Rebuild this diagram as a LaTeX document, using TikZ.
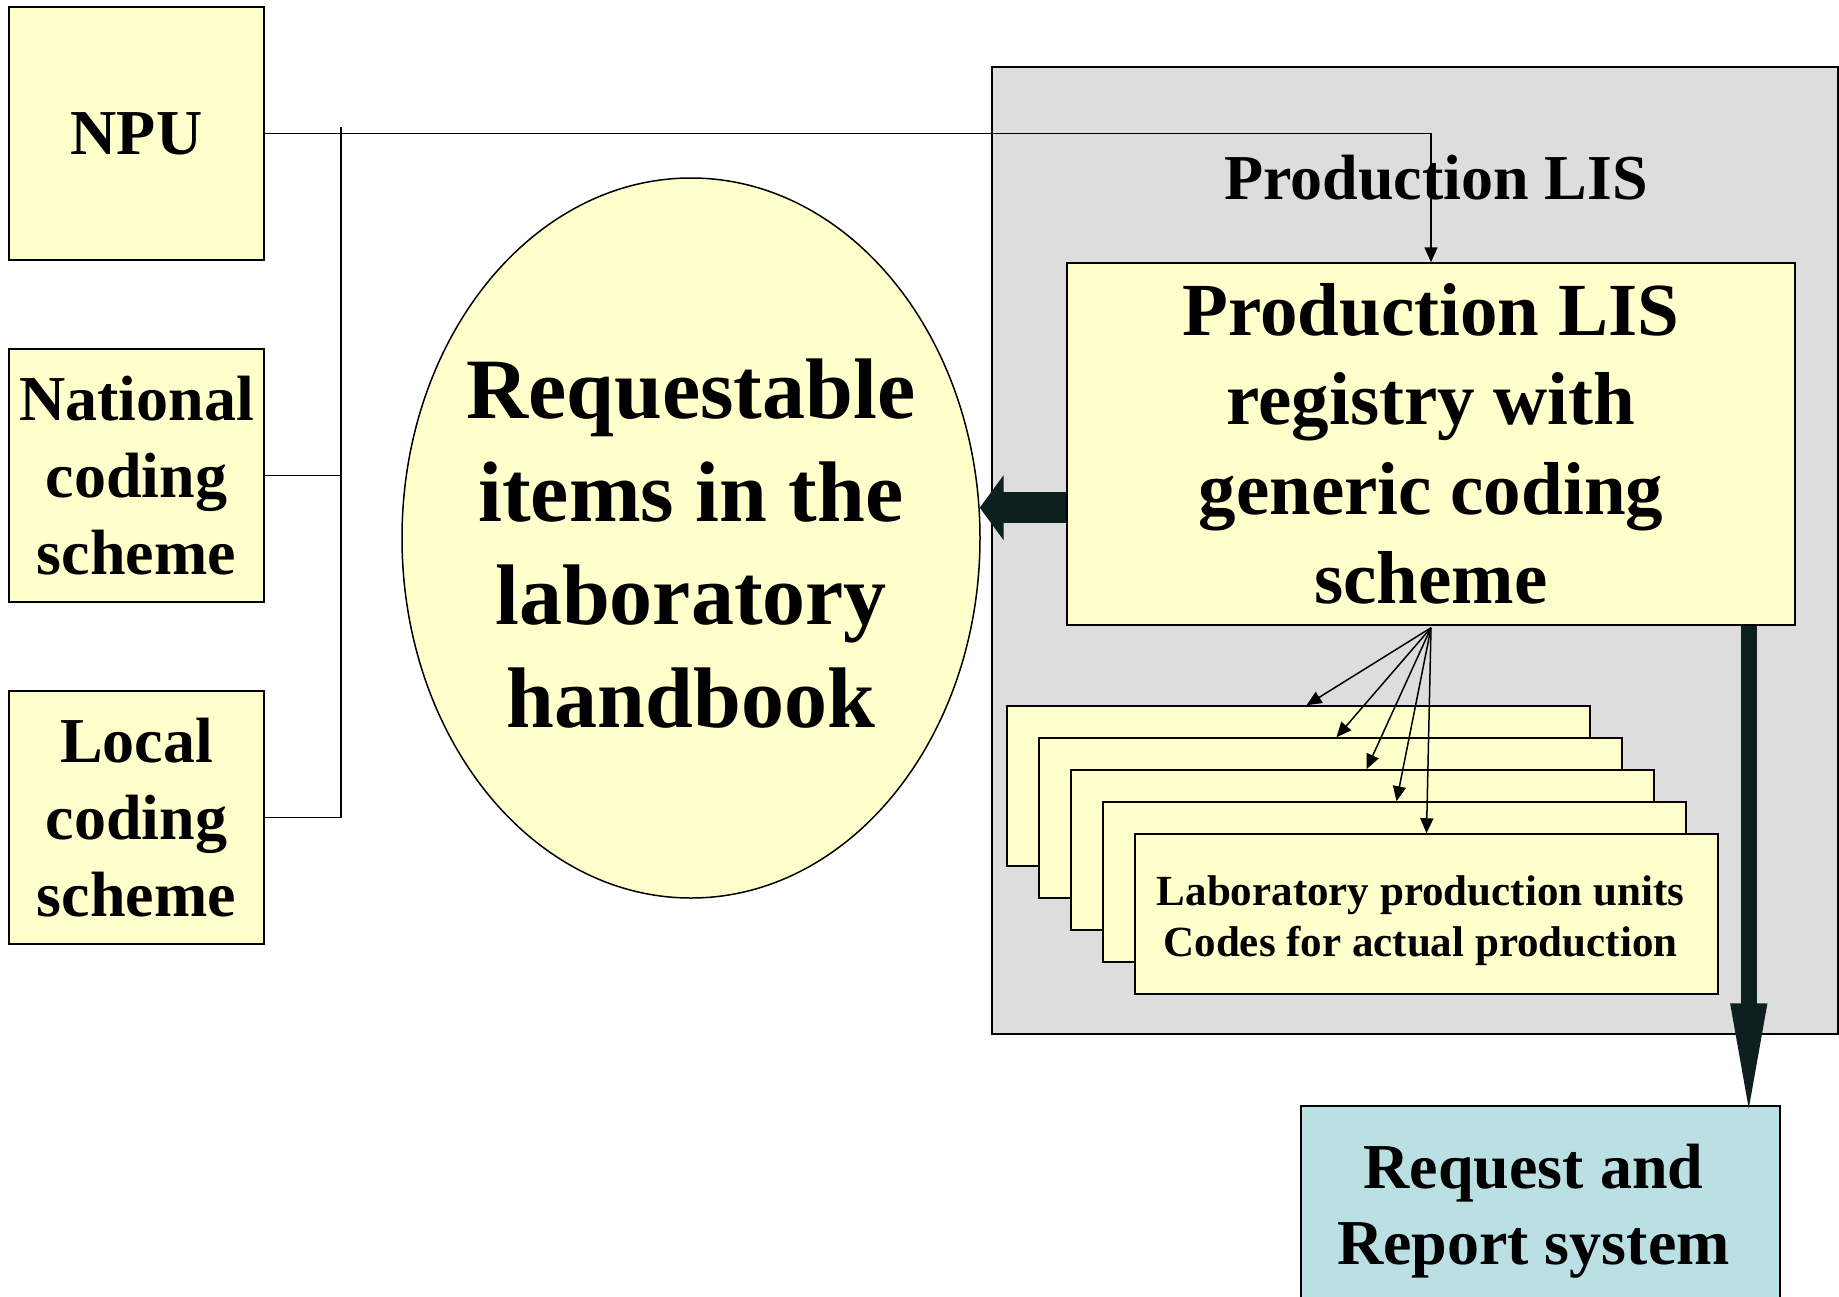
\documentclass[tikz,border=0pt]{standalone}
\usepackage{fontspec}
\setmainfont{Liberation Serif}
\usetikzlibrary{arrows.meta,positioning,shapes.geometric}
\definecolor{lightyel}{HTML}{FFFFCC}
\definecolor{panelgray}{HTML}{DDDDDD}
\definecolor{reqblue}{HTML}{BBE0E3}
\definecolor{darkarrow}{HTML}{0D1F1F}

\begin{document}
\begin{tikzpicture}[x=1pt,y=-1pt,
        src/.style={draw,line width=1.5pt,fill=lightyel,minimum width=255pt,minimum height=253pt,
            inner sep=0pt,align=center,font=\fontsize{64}{77}\selectfont\bfseries},
        unit/.style={draw,line width=1.5pt,fill=lightyel,minimum width=583pt,minimum height=160pt,inner sep=0pt},
        link/.style={line width=1.5pt},
        tip/.style={-{Triangle[length=15pt,width=13pt]}},
        fatarrow/.style={darkarrow},
    ]
    \path[use as bounding box,clip] (0,0) rectangle (1839,1296);

    % sources on the left
    \node[src] (npu) at (136.5,133.5) {NPU};
    \node[src] (nat) at (136.5,475.5) {National\\coding\\scheme};
    \node[src] (loc) at (136.5,817.5) {Local\\coding\\scheme};
    \coordinate (bustop) at (341,127);

    % handbook
    \node[ellipse,draw,line width=1.5pt,fill=lightyel,minimum width=578pt,minimum height=720pt] (hb) at (691,538) {};
    \node[align=center,font=\fontsize{86}{103}\selectfont\bfseries] at ([yshift=-6pt]hb.center)
        {Requestable\\items in the\\laboratory\\handbook};

    % production LIS panel
    \node[draw,line width=1.5pt,fill=panelgray,minimum width=846pt,minimum height=967pt] (lis) at (1415,550.5) {};
    \node[font=\fontsize{64}{80}\selectfont\bfseries] (listitle) at (1436,178) {Production LIS};
    \node[draw,line width=1.5pt,fill=lightyel,minimum width=728pt,minimum height=362pt,align=center,
        font=\fontsize{75}{89.5}\selectfont\bfseries] (reg) at (1431,444)
        {Production LIS\\registry with\\generic coding\\scheme};

    \foreach \i in {1,...,5}
        \node[unit] (u\i) at ({1298.5+32*(\i-1)},{786+32*(\i-1)}) {};
    \node[align=center,font=\fontsize{43}{51}\selectfont\bfseries] at ([xshift=-6pt,yshift=-7pt]u5.center)
        {Laboratory production units\\Codes for actual production};

    \node[draw,line width=1.5pt,fill=reqblue,minimum width=479pt,minimum height=198pt,align=center,
        font=\fontsize{64}{76}\selectfont\bfseries] (rr) at (1540.5,1205) {};
    \node[align=center,font=\fontsize{64}{76}\selectfont\bfseries] at ([xshift=-7pt,yshift=-6pt]rr.center)
        {Request and\\Report system};

    % connectors
    \draw[link] (bustop) |- (loc.east);
    \draw[link] (nat.east) -- (nat.east -| bustop);
    \draw[link,tip] (npu.east) -| (reg.north);
    \foreach \i/\s in {1/8,2/6,3/4,4/2,5/0}
        \draw[link,tip] ([yshift=-2pt]reg.south) -- ([xshift=\s pt]u\i.north);
    \draw[fatarrow,line width=31pt,-{Triangle[length=24pt,width=64pt]}] (hb.6.7 -| reg.west) -- (hb.6.7);
    \draw[fatarrow,line width=16pt,-{Triangle[length=120pt,width=32pt]}]
        ([xshift=-47pt]reg.south east) -- ([xshift=-47pt,yshift=-18pt]reg.south east |- rr.north);
\end{tikzpicture}
\end{document}
